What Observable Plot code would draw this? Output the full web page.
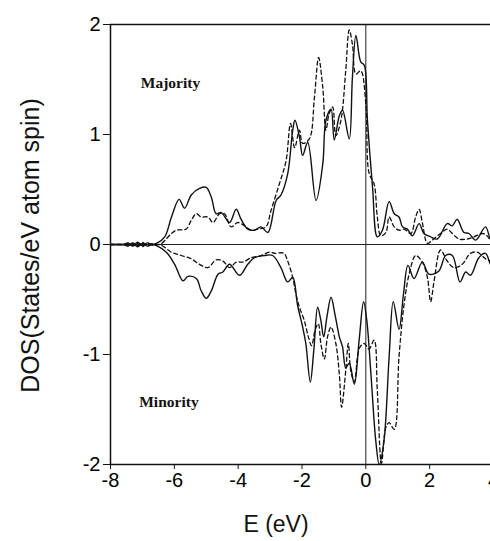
<!DOCTYPE html>
<html>
<head>
<meta charset="utf-8">
<script src="https://cdn.jsdelivr.net/npm/d3@7"></script>
<script src="https://cdn.jsdelivr.net/npm/@observablehq/plot@0.6"></script>
<style>
  html, body { margin: 0; padding: 0; background: #fff; overflow: hidden; }
  #chart svg { font-family: "Liberation Sans", Arial, sans-serif; }
</style>
</head>
<body>
<div id="chart"></div>
<script>
// ---- Data ----
// Majority spin, solid curve
const majSolidE = [-8, -7.6, -7.45, -7.3, -7.15, -7.0, -6.85, -6.7, -6.56, -6.30, -6.09, -5.85, -5.68, -5.47, -5.21, -5.0, -4.84, -4.69, -4.53, -4.27, -4.06, -3.91, -3.70, -3.49, -3.28, -3.07, -2.81, -2.66, -2.45, -2.29, -2.22, -2.08, -1.98, -1.82, -1.56, -1.35, -1.25, -1.09, -0.99, -0.83, -0.73, -0.52, -0.42, -0.31, -0.16, -0.05, 0.05, 0.21, 0.36, 0.52, 0.73, 0.89, 1.04, 1.15, 1.30, 1.46, 1.67, 1.82, 2.03, 2.24, 2.55, 2.71, 2.86, 3.07, 3.23, 3.44, 3.75, 3.91, 4.0];
const majSolidD = [0, 0, 0.015, -0.01, 0.02, -0.01, 0.015, 0, 0.01, 0.07, 0.25, 0.41, 0.33, 0.45, 0.51, 0.52, 0.43, 0.28, 0.29, 0.20, 0.32, 0.23, 0.14, 0.13, 0.16, 0.11, 0.40, 0.45, 0.64, 1.04, 1.13, 0.98, 0.81, 0.93, 0.40, 0.73, 1.13, 1.23, 0.95, 1.17, 1.22, 0.96, 1.52, 1.90, 1.66, 1.63, 1.13, 0.52, 0.07, 0.13, 0.39, 0.28, 0.25, 0.16, 0.14, 0.08, 0.19, 0.10, 0.07, 0.05, 0.19, 0.17, 0.23, 0.11, 0.10, 0.04, 0.16, 0.05, 0.08];

// Majority spin, dashed curve
const majDashE = [-8, -7.6, -7.45, -7.3, -7.15, -7.0, -6.85, -6.65, -6.46, -6.09, -5.94, -5.63, -5.47, -5.31, -5.16, -4.95, -4.79, -4.58, -4.43, -4.22, -4.01, -3.80, -3.59, -3.38, -3.13, -2.97, -2.71, -2.50, -2.36, -2.23, -2.08, -1.98, -1.77, -1.61, -1.48, -1.35, -1.25, -1.15, -1.04, -0.94, -0.78, -0.63, -0.52, -0.42, -0.31, -0.16, 0.0, 0.10, 0.26, 0.36, 0.47, 0.63, 0.73, 0.89, 1.04, 1.20, 1.41, 1.56, 1.67, 1.77, 1.93, 2.08, 2.34, 2.55, 2.71, 2.92, 3.18, 3.39, 3.65, 3.80, 3.91, 4.0];
const majDashD = [0, 0, -0.01, 0.015, -0.01, 0.02, -0.01, 0.01, 0, 0.10, 0.13, 0.14, 0.22, 0.28, 0.25, 0.25, 0.20, 0.28, 0.28, 0.16, 0.20, 0.17, 0.13, 0.14, 0.16, 0.31, 0.55, 0.76, 1.10, 0.88, 1.04, 0.92, 0.96, 1.34, 1.70, 1.43, 1.04, 1.19, 1.25, 0.99, 1.13, 1.58, 1.95, 1.82, 1.55, 1.58, 1.28, 0.65, 0.55, 0.25, 0.08, 0.11, 0.25, 0.16, 0.13, 0.14, 0.10, 0.25, 0.32, 0.20, 0.01, 0.04, 0.10, 0.14, 0.10, 0.05, 0.05, 0.07, 0.10, 0.08, 0.04, 0.06];

// Minority spin, solid curve
const minSolidE = [-8, -7.6, -7.45, -7.3, -7.15, -7.0, -6.85, -6.7, -6.56, -6.25, -5.99, -5.73, -5.57, -5.31, -5.16, -5.0, -4.84, -4.63, -4.48, -4.27, -3.96, -3.70, -3.49, -3.18, -2.92, -2.66, -2.45, -2.29, -2.14, -1.98, -1.88, -1.74, -1.63, -1.51, -1.41, -1.32, -1.22, -1.09, -0.97, -0.83, -0.73, -0.63, -0.52, -0.36, -0.21, -0.07, 0.03, 0.16, 0.31, 0.42, 0.57, 0.73, 0.86, 1.04, 1.18, 1.32, 1.51, 1.77, 1.98, 2.29, 2.50, 2.71, 2.95, 3.13, 3.28, 3.54, 3.75, 3.91, 4.0];
const minSolidD = [0, 0, -0.015, 0.01, -0.02, 0.01, -0.015, 0, -0.01, -0.07, -0.18, -0.33, -0.29, -0.31, -0.42, -0.49, -0.42, -0.27, -0.25, -0.18, -0.28, -0.18, -0.12, -0.10, -0.10, -0.21, -0.34, -0.30, -0.55, -0.75, -0.90, -1.25, -0.96, -0.57, -0.69, -0.84, -0.66, -0.48, -0.63, -0.84, -0.93, -1.12, -1.08, -1.27, -0.87, -0.52, -0.69, -1.18, -1.78, -2.0, -1.78, -1.02, -0.52, -0.77, -0.45, -0.19, -0.31, -0.16, -0.27, -0.24, -0.10, -0.10, -0.34, -0.25, -0.28, -0.12, -0.08, -0.18, -0.20];

// Minority spin, dashed curve
const minDashE = [-8, -7.6, -7.45, -7.3, -7.15, -7.0, -6.85, -6.65, -6.46, -6.09, -5.78, -5.47, -5.21, -4.95, -4.69, -4.48, -4.27, -4.06, -3.85, -3.59, -3.28, -3.02, -2.86, -2.57, -2.45, -2.29, -2.19, -2.08, -1.93, -1.80, -1.70, -1.59, -1.49, -1.41, -1.30, -1.20, -1.09, -0.94, -0.83, -0.76, -0.63, -0.55, -0.47, -0.36, -0.26, -0.18, -0.05, 0.10, 0.26, 0.36, 0.49, 0.63, 0.73, 0.89, 1.04, 1.20, 1.38, 1.56, 1.77, 1.93, 2.03, 2.14, 2.34, 2.55, 2.76, 3.02, 3.28, 3.49, 3.75, 3.91, 4.0];
const minDashD = [0, 0, 0.01, -0.015, 0.01, -0.02, 0.01, -0.01, 0, -0.07, -0.10, -0.13, -0.18, -0.21, -0.14, -0.15, -0.21, -0.16, -0.16, -0.12, -0.10, -0.07, -0.08, -0.08, -0.15, -0.30, -0.45, -0.57, -0.69, -0.84, -0.92, -0.78, -0.72, -0.90, -1.04, -0.84, -0.75, -0.90, -1.18, -1.48, -1.15, -0.90, -1.15, -1.25, -1.02, -0.93, -0.90, -0.95, -0.87, -1.33, -1.99, -1.66, -1.62, -1.68, -1.02, -0.54, -0.24, -0.10, -0.16, -0.30, -0.52, -0.33, -0.05, -0.15, -0.21, -0.18, -0.08, -0.07, -0.13, -0.15, -0.14];

// Tick values and labels
const xTicks = [-8, -6, -4, -2, 0, 2, 4];
const yTicks = [-2, -1, 0, 1, 2];
const xLabel = "E (eV)";
const yLabel = "DOS(States/eV atom spin)";
const panelNames = ["Majority", "Minority"];
const panelE = [-7.05, -7.1];
const panelD = [1.47, -1.43];

// ---- Build tables ----
const toRows = (E, D) => E.map((e, i) => ({E: e, D: D[i]}));
const majSolid = toRows(majSolidE, majSolidD);
const majDash = toRows(majDashE, majDashD);
const minSolid = toRows(minSolidE, minSolidD);
const minDash = toRows(minDashE, minDashD);
const panels = panelNames.map((t, i) => ({t, E: panelE[i], D: panelD[i]}));

const solidStyle = {x: "E", y: "D", stroke: "#111", strokeWidth: 1.4, curve: "catmull-rom"};
const dashStyle = {x: "E", y: "D", stroke: "#111", strokeWidth: 1.3, strokeDasharray: "4,3", curve: "catmull-rom"};

const chart = Plot.plot({
  width: 490,
  height: 541,
  marginLeft: 110,
  marginRight: -3,
  marginTop: 24,
  marginBottom: 77,
  x: {domain: [-8, 4]},
  y: {domain: [-2, 2]},
  marks: [
    Plot.ruleY([0], {stroke: "#222", strokeWidth: 1}),
    Plot.ruleX([0], {stroke: "#222", strokeWidth: 1}),
    Plot.line(majSolid, solidStyle),
    Plot.line(majDash, dashStyle),
    Plot.line(minSolid, solidStyle),
    Plot.line(minDash, dashStyle),
    Plot.frame({stroke: "#111", strokeWidth: 1.5}),
    Plot.axisX({ticks: xTicks, tickFormat: d => String(d), tickSize: 5, tickPadding: 3, fontSize: 20, label: null, stroke: "#111"}),
    Plot.axisY({ticks: yTicks, tickFormat: d => String(d), tickSize: 7, tickPadding: 3, fontSize: 20, label: null, stroke: "#111"}),
    Plot.text([xLabel], {frameAnchor: "bottom", text: d => d, textAnchor: "middle", dx: -26, dy: 67, fontSize: 23, fill: "#111"}),
    Plot.text([yLabel], {frameAnchor: "left", text: d => d, textAnchor: "middle", rotate: -90, dx: -80, dy: 1, fontSize: 25, fill: "#111"}),
    Plot.text(panels, {x: "E", y: "D", text: "t", textAnchor: "start", fontFamily: "Liberation Serif, Times New Roman, serif", fontWeight: "bold", fontSize: 15.5, fill: "#111"})
  ]
});
document.getElementById("chart").appendChild(chart);
</script>
</body>
</html>
